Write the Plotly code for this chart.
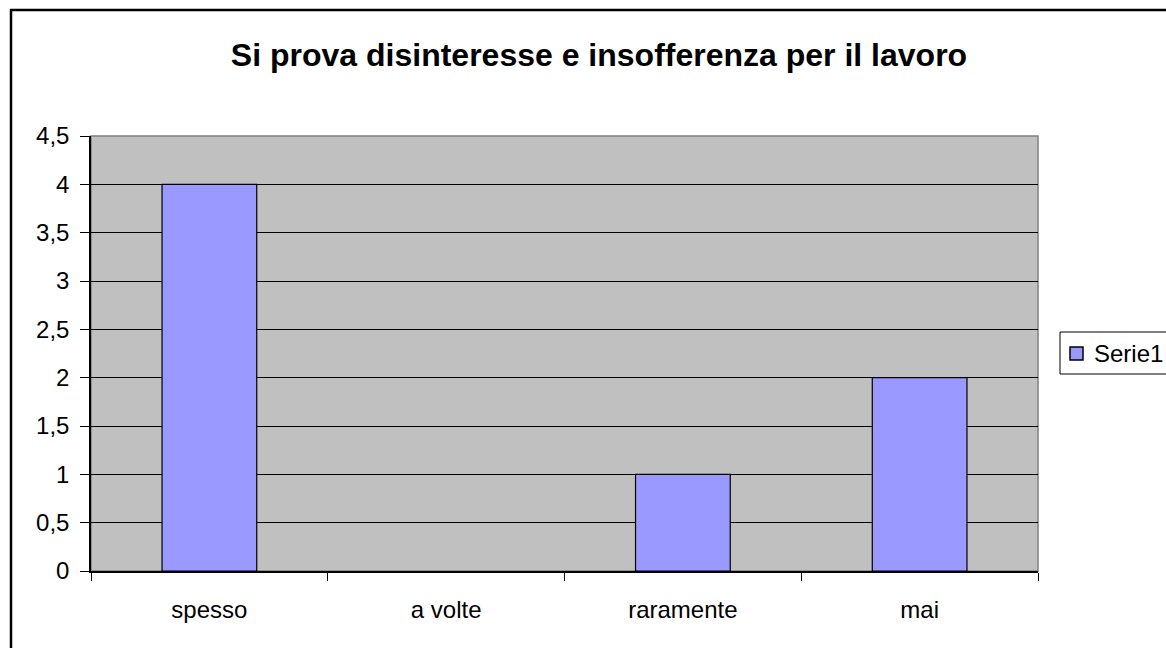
import plotly.graph_objects as go

# Data
categories = ["spesso", "a volte", "raramente", "mai"]
serie1 = [4, 0, 1, 2]
y_ticks = [0, 0.5, 1, 1.5, 2, 2.5, 3, 3.5, 4, 4.5]
series_name = "Serie1"
bar_color = "#9999FF"

W, H = 1166, 648
L, R, T, B = 91, 128, 136, 77
plot_w = W - L - R
plot_h = H - T - B


def px_x(px):
    return (px - L) / plot_w


def px_y(py):
    return (H - B - py) / plot_h


fig = go.Figure()
fig.add_trace(go.Bar(
    x=categories,
    y=serie1,
    name=series_name,
    showlegend=False,
    marker=dict(
        color=bar_color,
        line=dict(color="#000000", width=[1.2 if v > 0 else 0 for v in serie1]),
    ),
))

shapes = [
    # outer chart frame
    dict(type="rect", xref="paper", yref="paper",
         x0=px_x(11), x1=px_x(1300), y0=px_y(10), y1=px_y(760),
         line=dict(color="#000000", width=2.5), fillcolor="rgba(0,0,0,0)",
         layer="above"),
    # plot area frame
    dict(type="rect", xref="paper", yref="paper",
         x0=0, x1=1, y0=0, y1=1,
         line=dict(color="#808080", width=1.5), fillcolor="rgba(0,0,0,0)",
         layer="below"),
    # legend box
    dict(type="rect", xref="paper", yref="paper",
         x0=px_x(1060), x1=px_x(1250), y0=px_y(332), y1=px_y(374),
         line=dict(color="#000000", width=1), fillcolor="#FFFFFF",
         layer="above"),
    # legend swatch
    dict(type="rect", xref="paper", yref="paper",
         x0=px_x(1070), x1=px_x(1083), y0=px_y(347), y1=px_y(360),
         line=dict(color="#000000", width=1.5), fillcolor=bar_color,
         layer="above"),
]

annotations = [
    dict(text=series_name, xref="paper", yref="paper",
         x=px_x(1092), xanchor="left", y=px_y(353), yanchor="middle",
         showarrow=False, font=dict(size=24, color="#000000")),
]

fig.update_layout(
    width=W, height=H,
    margin=dict(l=L, r=R, t=T, b=B, pad=0, autoexpand=False),
    paper_bgcolor="#FFFFFF",
    plot_bgcolor="#C0C0C0",
    separators=",.",
    font=dict(family="Liberation Sans, Arial, sans-serif", size=24, color="#000000"),
    title=dict(
        text="<b>Si prova disinteresse e insofferenza per il lavoro</b>",
        font=dict(size=32, color="#000000"),
        xref="paper", x=px_x(599), xanchor="center",
        yref="container", y=1 - 55 / H, yanchor="middle",
    ),
    bargap=0.6,
    showlegend=False,
    shapes=shapes,
    annotations=annotations,
)

fig.update_xaxes(
    showgrid=False,
    showline=True, linecolor="#000000", linewidth=1.5,
    ticks="outside", tickson="boundaries", ticklen=8, tickcolor="#000000",
    tickwidth=1,
    ticklabelstandoff=16,
)
fig.update_yaxes(
    range=[0, 4.5],
    tickvals=y_ticks,
    showgrid=True, gridcolor="#000000", gridwidth=1,
    showline=True, linecolor="#000000", linewidth=1.5,
    ticks="outside", ticklen=9, tickcolor="#000000", tickwidth=1,
    ticklabelstandoff=6,
    zeroline=False,
)

fig.write_html("out.html")
